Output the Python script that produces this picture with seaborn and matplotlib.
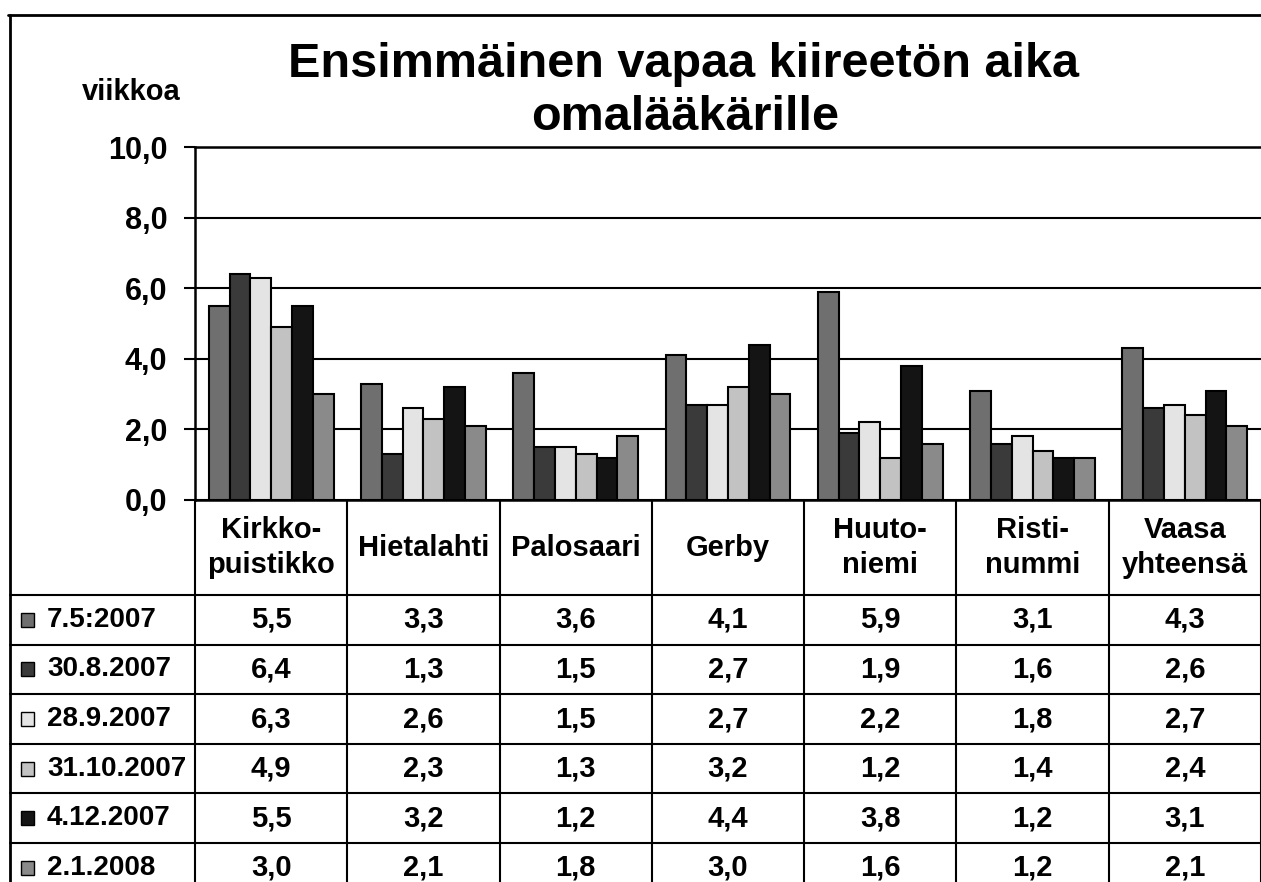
import matplotlib
matplotlib.use("Agg")
import matplotlib.pyplot as plt
import matplotlib.transforms as mtrans
from matplotlib.lines import Line2D
from matplotlib.patches import Rectangle
import seaborn as sns
import pandas as pd

categories = ["Kirkko-\npuistikko", "Hietalahti", "Palosaari", "Gerby",
              "Huuto-\nniemi", "Risti-\nnummi", "Vaasa\nyhteensä"]
series_names = ["7.5:2007", "30.8.2007", "28.9.2007", "31.10.2007", "4.12.2007", "2.1.2008"]
v_20070507 = [5.5, 3.3, 3.6, 4.1, 5.9, 3.1, 4.3]
v_20070830 = [6.4, 1.3, 1.5, 2.7, 1.9, 1.6, 2.6]
v_20070928 = [6.3, 2.6, 1.5, 2.7, 2.2, 1.8, 2.7]
v_20071031 = [4.9, 2.3, 1.3, 3.2, 1.2, 1.4, 2.4]
v_20071204 = [5.5, 3.2, 1.2, 4.4, 3.8, 1.2, 3.1]
v_20080102 = [3.0, 2.1, 1.8, 3.0, 1.6, 1.2, 2.1]
y_ticks = [0, 2, 4, 6, 8, 10]
y_tick_labels = ["0,0", "2,0", "4,0", "6,0", "8,0", "10,0"]
title_line1 = "Ensimmäinen vapaa kiireetön aika"
title_line2 = "omalääkärille"
y_unit = "viikkoa"

series_values = [v_20070507, v_20070830, v_20070928, v_20071031, v_20071204, v_20080102]
colors = ["#6f6f6f", "#3a3a3a", "#e4e4e4", "#c2c2c2", "#141414", "#8a8a8a"]

rows = []
for name, vals in zip(series_names, series_values):
    for c, v in zip(categories, vals):
        rows.append({"category": c, "series": name, "value": v})
df = pd.DataFrame(rows)

sns.set_theme(style="white")
plt.rcParams["font.family"] = ["Liberation Sans", "DejaVu Sans"]
plt.rcParams["font.weight"] = "bold"
plt.rcParams["text.color"] = "black"
plt.rcParams["ytick.color"] = "black"
plt.rcParams["xtick.color"] = "black"

W, H = 1261, 882
fig = plt.figure(figsize=(W / 100, H / 100), dpi=100)
fig.patch.set_facecolor("white")

def fx(px):
    return px / W

def fy(py):
    return 1 - py / H

ax_left, ax_right, ax_top, ax_bot = 195, 1261, 147, 500
ax = fig.add_axes([fx(ax_left), fy(ax_bot), fx(ax_right - ax_left), (ax_bot - ax_top) / H])

sns.barplot(data=df, x="category", y="value", hue="series", order=categories,
            hue_order=series_names, palette=colors, width=0.82, saturation=1,
            edgecolor="black", linewidth=1.5, ax=ax, legend=False, errorbar=None)

ax.set_xlim(-0.5, len(categories) - 0.5)
ax.set_ylim(0, 10)
ax.set_yticks(y_ticks)
ax.set_yticklabels(y_tick_labels, fontsize=22, fontweight="bold", color="black")
ax.tick_params(axis="y", direction="out", length=8, width=1.5, pad=12, left=True, colors="black")
ax.tick_params(axis="x", bottom=False, labelbottom=False)
ax.set_xlabel("")
ax.set_ylabel("")
ax.yaxis.grid(True, color="black", linewidth=1.5)
ax.set_axisbelow(True)
ax.spines["right"].set_visible(False)
for side in ["left", "top", "bottom"]:
    ax.spines[side].set_color("black")
    ax.spines[side].set_linewidth(1.8)

# Titles
fig.text(fx(683), fy(77), title_line1, ha="center", va="baseline", fontsize=35, fontweight="bold")
fig.text(fx(685), fy(130), title_line2, ha="center", va="baseline", fontsize=35, fontweight="bold")
fig.text(fx(131), fy(100), y_unit, ha="center", va="baseline", fontsize=21, fontweight="bold")

# Outer frame
fig.add_artist(Line2D([fx(8), 1], [fy(15), fy(15)], color="black", lw=2, transform=fig.transFigure))
fig.add_artist(Line2D([fx(10), fx(10)], [fy(15), 0], color="black", lw=2, transform=fig.transFigure))

# Data table
trans = mtrans.blended_transform_factory(ax.transData, fig.transFigure)
header_bottom = 595
row_h = 49.6
for i in range(len(categories) + 1):
    xb = -0.5 + i
    fig.add_artist(Line2D([xb, xb], [fy(ax_bot), 0], color="black", lw=1.5, transform=trans, clip_on=False))

for i, c in enumerate(categories):
    fig.text(i, fy((ax_bot + header_bottom) / 2), c, transform=trans, ha="center", va="center",
             fontsize=21, fontweight="bold", linespacing=1.35)

for r in range(len(series_names)):
    yline = header_bottom + r * row_h
    fig.add_artist(Line2D([fx(10), 1], [fy(yline), fy(yline)], color="black", lw=1.5,
                          transform=fig.transFigure))

for r, (name, vals, col) in enumerate(zip(series_names, series_values, colors)):
    yc = header_bottom + (r + 0.5) * row_h
    fig.add_artist(Rectangle((fx(21), fy(yc + 7)), fx(13), 14 / H, facecolor=col,
                             edgecolor="black", lw=1, transform=fig.transFigure))
    fig.text(fx(47), fy(yc), name, ha="left", va="center", fontsize=20, fontweight="bold")
    for i, v in enumerate(vals):
        fig.text(i, fy(yc), f"{v:.1f}".replace(".", ","), transform=trans, ha="center",
                 va="center", fontsize=21, fontweight="bold")

fig.savefig("out.png", dpi=100, facecolor="white")
